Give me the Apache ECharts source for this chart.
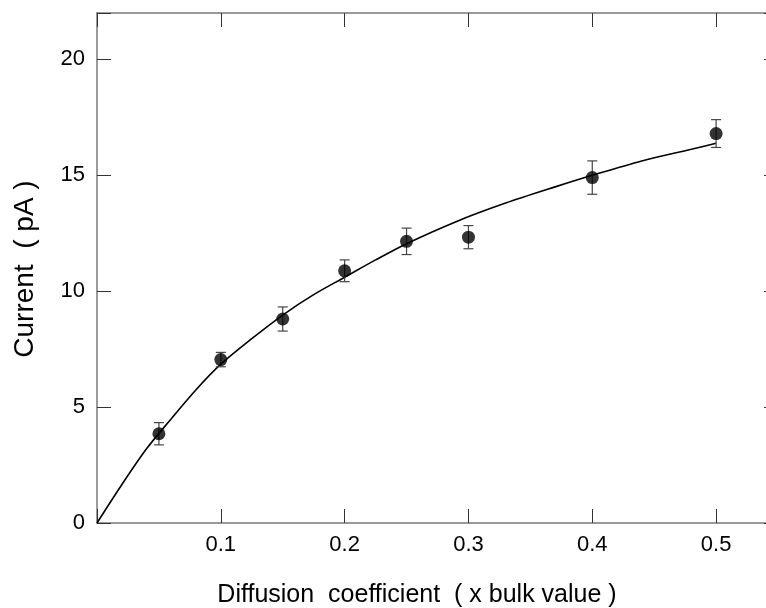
<!DOCTYPE html>
<html><head><meta charset="utf-8">
<script src="https://cdn.jsdelivr.net/npm/echarts@6/dist/echarts.min.js"></script>
<style>html,body{margin:0;padding:0;background:#fff;overflow:hidden}#c{width:766px;height:608px}</style>
</head><body><div id="c"></div>
<script>
const xValues = [0.05, 0.1, 0.15, 0.2, 0.25, 0.3, 0.4, 0.5];
const yValues = [3.85, 7.05, 8.8, 10.88, 12.15, 12.33, 14.9, 16.8];
const yErrors = [0.48, 0.31, 0.52, 0.47, 0.57, 0.5, 0.72, 0.6];
const fitX = [0, 0.02, 0.04, 0.06, 0.08, 0.10, 0.125, 0.15, 0.175, 0.20, 0.225, 0.25, 0.29, 0.33, 0.37, 0.40, 0.44, 0.48, 0.50];
const fitY = [0, 1.65, 3.2, 4.5, 5.75, 6.85, 7.95, 8.97, 9.85, 10.6, 11.35, 12.05, 13.0, 13.8, 14.5, 15.0, 15.62, 16.12, 16.38];
const xTickLabels = ['0.1', '0.2', '0.3', '0.4', '0.5'];
const yTickLabels = ['0', '5', '10', '15', '20'];
const xTitle = 'Diffusion  coefficient  ( x bulk value )';
const yTitle = 'Current  ( pA )';

const FONT = 'Liberation Sans, Arial, sans-serif';
const chart = echarts.init(document.getElementById('c'));
const fmt = (list) => (v) => { const s = String(+(+v).toFixed(2)); return list.includes(s) ? s : ''; };
const axisLine = (show) => ({ show: show, onZero: false, lineStyle: { color: '#7a7a7a', width: 1.5 } });
const tick = () => ({ show: true, inside: true, length: 14, lineStyle: { color: '#333', width: 1 } });

const points = xValues.map((x, i) => [x, yValues[i]]);
const errData = xValues.map((x, i) => [x, yValues[i], yErrors[i]]);
const fitData = fitX.map((x, i) => [x, fitY[i]]);

chart.setOption({
  animation: false,
  backgroundColor: '#fff',
  grid: { left: 97, top: 13, width: 681, height: 510, containLabel: false, outerBoundsMode: 'none' },
  xAxis: [
    { type: 'value', position: 'bottom', min: 0, max: 0.55, interval: 0.1,
      axisLine: axisLine(true), axisTick: tick(),
      axisLabel: { formatter: fmt(xTickLabels), fontSize: 22, fontFamily: FONT, color: '#000', margin: 11 },
      splitLine: { show: false } },
    { type: 'value', position: 'top', min: 0, max: 0.55, interval: 0.1,
      axisLine: axisLine(true), axisTick: tick(),
      axisLabel: { show: false }, splitLine: { show: false } }
  ],
  yAxis: [
    { type: 'value', position: 'left', min: 0, max: 22, interval: 5,
      axisLine: axisLine(true), axisTick: tick(),
      axisLabel: { formatter: fmt(yTickLabels), fontSize: 22, fontFamily: FONT, color: '#000', margin: 12 },
      splitLine: { show: false } },
    { type: 'value', position: 'right', min: 0, max: 22, interval: 5,
      axisLine: axisLine(false), axisTick: tick(),
      axisLabel: { show: false }, splitLine: { show: false } }
  ],
  graphic: [
    { type: 'text', x: 417, y: 595,
      style: { text: xTitle, fontSize: 25, fontFamily: FONT, fill: '#000', align: 'center', verticalAlign: 'middle' } },
    { type: 'text', x: 25, y: 269, rotation: Math.PI / 2,
      style: { text: yTitle, fontSize: 28, fontFamily: FONT, fill: '#000', align: 'center', verticalAlign: 'middle' } }
  ],
  series: [
    { type: 'line', data: fitData, smooth: 0.3, symbol: 'none',
      lineStyle: { color: '#000', width: 1.6 }, z: 2 },
    { type: 'custom', data: errData, z: 3,
      renderItem: function (params, api) {
        const x = api.value(0), y = api.value(1), e = api.value(2);
        const top = api.coord([x, y + e]);
        const bot = api.coord([x, y - e]);
        const hw = 5;
        const st = { stroke: '#444', lineWidth: 1.2 };
        return { type: 'group', children: [
          { type: 'line', shape: { x1: top[0], y1: top[1], x2: bot[0], y2: bot[1] }, style: st },
          { type: 'line', shape: { x1: top[0] - hw, y1: top[1], x2: top[0] + hw, y2: top[1] }, style: st },
          { type: 'line', shape: { x1: bot[0] - hw, y1: bot[1], x2: bot[0] + hw, y2: bot[1] }, style: st }
        ] };
      } },
    { type: 'scatter', data: points, symbol: 'circle', symbolSize: 13,
      itemStyle: { color: '#000' }, z: 4 }
  ]
});
</script></body></html>
